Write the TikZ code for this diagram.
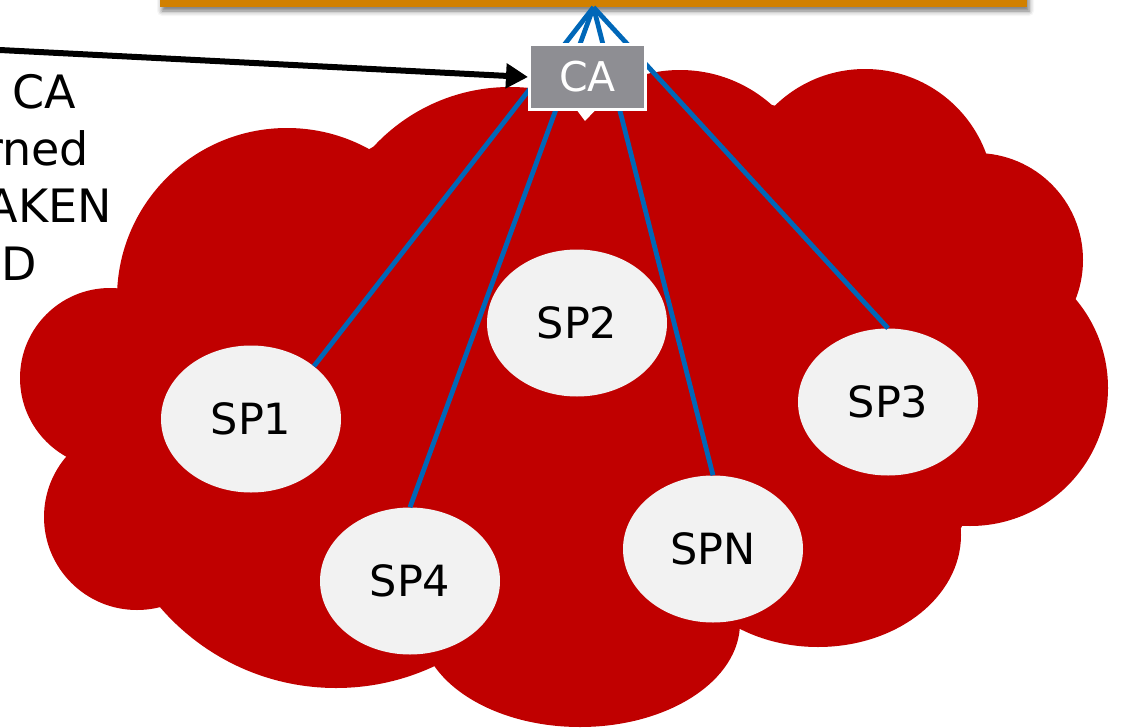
\documentclass[tikz,border=0pt]{standalone}
\usepackage{fontspec}
\setmainfont{DejaVu Sans}
\usetikzlibrary{shapes.geometric,arrows.meta,shadows.blur}

\definecolor{cloudred}{RGB}{192,0,0}
\definecolor{linkblue}{RGB}{0,103,184}
\definecolor{barorange}{RGB}{209,128,0}
\definecolor{cagray}{RGB}{142,142,147}
\definecolor{spfill}{RGB}{242,242,242}

\begin{document}
\begin{tikzpicture}[x=1pt,y=-1pt,
  spnode/.style={ellipse, fill=spfill, minimum width=180pt, minimum height=147pt,
    inner sep=0pt, font=\fontsize{43}{50}\selectfont},
  link/.style={linkblue, line width=4.8pt},
  barstyle/.style={rectangle, fill=barorange, minimum width=867pt, minimum height=24pt,
    inner sep=0pt, blur shadow={shadow xshift=2pt, shadow yshift=-4pt,
    shadow blur radius=5pt, shadow opacity=55}},
  cabox/.style={rectangle, fill=cagray, draw=white, line width=3pt,
    minimum width=116pt, minimum height=65pt, inner sep=0pt, text=white,
    font=\fontsize{41}{48}\selectfont},
  sidetext/.style={anchor=base east, inner sep=0pt, font=\fontsize{46}{55}\selectfont},
  pointer/.style={line width=6pt, -{Triangle[length=22pt,width=24pt]}}
]
\useasboundingbox (0,0) rectangle (1122,728);
\clip (0,0) rectangle (1122,728);

% cloud: lobes plus a core polygon through the cusps
\fill[cloudred] (287,298) circle[radius=170pt];
\fill[cloudred] (110,378) circle[radius=90pt];
\fill[cloudred] (137,517) circle[radius=93pt];
\fill[cloudred] (336,456) circle[radius=232pt];
\fill[cloudred] (580,623) ellipse[x radius=160pt, y radius=104pt];
\fill[cloudred] (818,535) ellipse[x radius=143pt, y radius=112pt];
\fill[cloudred] (970,388) circle[radius=138pt];
\fill[cloudred] (976,260) circle[radius=107pt];
\fill[cloudred] (865,198) circle[radius=129pt];
\fill[cloudred] (680,208) circle[radius=138pt];
\fill[cloudred] (510,273) circle[radius=186pt];
\fill[cloudred] (118,288) -- (373,147) -- (590,105) -- (772,105) -- (985,153)
  -- (1073,303) -- (961,528) -- (738,629) -- (435,666) -- (166,608) -- (73,457) -- cycle;

% service providers
\node[spnode] (sp1) at (251,419) {SP1};
\node[spnode] (sp2) at (577,323) {SP2};
\node[spnode] (sp3) at (888,402) {SP3};
\node[spnode] (sp4) at (410,581) {SP4};
\node[spnode] (spn) at (713,549) {SPN};

% top bar
\node[barstyle] (bar) at (593.5,-5) {};

% links from the bar down to the providers
\draw[link] (bar.south) -- (sp1.40);
\draw[link] (bar.south) -- (sp4.north);
\draw[link] (bar.south) -- (spn.north);
\draw[link] (bar.south) -- (sp3.north);

% certificate authority
\node[cabox] (ca) at (587.5,77) {CA};
\fill[white] ([xshift=-10pt]ca.south) -- ([xshift=7pt]ca.south)
  -- ([xshift=-2.5pt,yshift=-10pt]ca.south) -- cycle;

% incoming arrow
\coordinate (tail) at (-12,49.4);
\draw[pointer] (tail) -- (ca.west);

% side text
\node[sidetext] (t1) at (76,108) {CA};
\node[sidetext] (t2) at (89,165) {rned};
\node[sidetext] (t3) at (112,222) {AKEN};
\node[sidetext] (t4) at (37,280) {D};
\end{tikzpicture}
\end{document}
